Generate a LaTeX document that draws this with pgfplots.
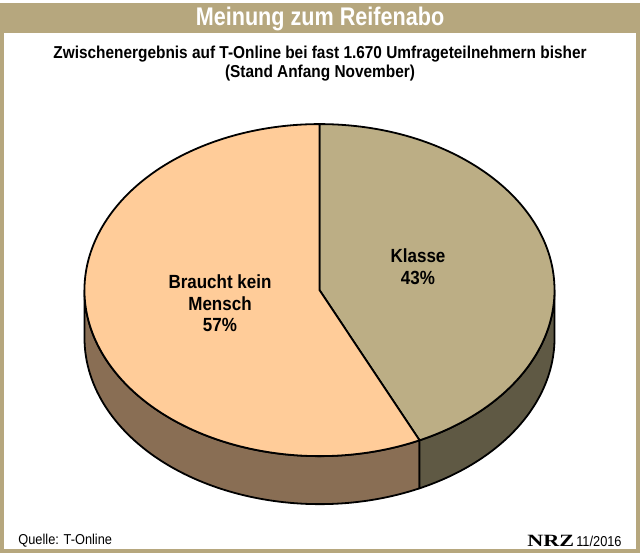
\documentclass[border=0pt]{standalone}
\usepackage{pgfplots}
\usepackage{pgfplotstable}
\pgfplotsset{compat=1.18}
\usepackage{fontspec}
\setmainfont{Liberation Sans}
\newfontfamily\logofont{Liberation Serif}

\definecolor{frame}{RGB}{182,167,126}
\definecolor{khaki}{RGB}{188,174,133}
\definecolor{khakiside}{RGB}{95,89,68}
\definecolor{peach}{RGB}{255,204,153}
\definecolor{peachside}{RGB}{137,110,84}

% Umfrage T-Online, Anteile in Prozent
\pgfplotstableread{
label value
Klasse 43
Mensch 57
}\piedata

\newcommand{\tall}[1]{\scalebox{1}[1.12]{#1}}

\begin{document}
\begin{tikzpicture}
\pgfplotstablegetelem{0}{value}\of\piedata
\let\vK\pgfplotsretval
% pie geometry in pixel units (1 unit = 0.5pt)
\def\cx{319.5}\def\cy{262.5}\def\RX{235}\def\RY{166}\def\D{48}
\def\rx{117.5pt}\def\ry{83pt}
\pgfmathsetmacro\aB{90-3.6*\vK}
\pgfmathsetmacro\aS{\aB+360}
\pgfmathsetmacro\xB{\cx+\RX*cos(\aB)}
\pgfmathsetmacro\yB{\cy+\RY*sin(\aB)}
\pgfmathsetmacro\yBd{\yB-\D}
\pgfmathsetmacro\xL{\cx-\RX}
\pgfmathsetmacro\xR{\cx+\RX}
\pgfmathsetmacro\yD{\cy-\D}
\pgfmathsetmacro\yT{\cy+\RY}
\begin{axis}[
    x=0.5pt, y=0.5pt,
    xmin=0, xmax=640, ymin=0, ymax=550,
    scale only axis,
    enlargelimits=false,
    hide axis,
    clip=false,
]
\fill[frame] (axis cs:0,0) rectangle (axis cs:640,550);
\fill[white] (axis cs:4,4) rectangle (axis cs:636,520);

\node[text=white, font=\bfseries\fontsize{10.8}{13}\selectfont]
    at (axis cs:320,534) {\scalebox{1}[1.18]{Meinung zum Reifenabo}};
\node[align=center, font=\bfseries\fontsize{7.7}{9.5}\selectfont]
    at (axis cs:320,489.5)
    {\tall{Zwischenergebnis auf T-Online bei fast 1.670 Umfrageteilnehmern bisher}\\\tall{(Stand Anfang November)}};

% sides
\filldraw[fill=peachside, draw=black, line width=0.9pt, line join=round]
    (axis cs:\xL,\cy) arc[start angle=180, end angle=\aS, x radius=\rx, y radius=\ry]
    -- (axis cs:\xB,\yBd) arc[start angle=\aS, end angle=180, x radius=\rx, y radius=\ry]
    -- cycle;
\filldraw[fill=khakiside, draw=black, line width=0.9pt, line join=round]
    (axis cs:\xB,\yB) arc[start angle=\aS, end angle=360, x radius=\rx, y radius=\ry]
    -- (axis cs:\xR,\yD) arc[start angle=360, end angle=\aS, x radius=\rx, y radius=\ry]
    -- cycle;
% top
\filldraw[fill=khaki, draw=black, line width=0.9pt, line join=round]
    (axis cs:\cx,\cy) -- (axis cs:\cx,\yT)
    arc[start angle=90, end angle=\aB, x radius=\rx, y radius=\ry] -- cycle;
\filldraw[fill=peach, draw=black, line width=0.9pt, line join=round]
    (axis cs:\cx,\cy) -- (axis cs:\xB,\yB)
    arc[start angle=\aB, end angle=-270, x radius=\rx, y radius=\ry] -- cycle;

\node[align=center, font=\bfseries\fontsize{8.5}{11}\selectfont]
    at (axis cs:418,285.5) {\tall{Klasse}\\\tall{43\%}};
\node[align=center, font=\bfseries\fontsize{8.5}{10.75}\selectfont]
    at (axis cs:220,249) {\tall{Braucht kein}\\\tall{Mensch}\\\tall{57\%}};

\node[anchor=west, inner sep=0pt, font=\fontsize{6.4}{7.5}\selectfont]
    at (axis cs:18,12) {\tall{Quelle: T-Online}};
\node[anchor=east, inner sep=0pt, font=\fontsize{6.4}{7.5}\selectfont]
    at (axis cs:622,12) {\scalebox{1.35}[1.05]{\logofont\bfseries\fontsize{8.2}{9}\selectfont NRZ}\,\tall{11/2016}};
\end{axis}
\end{tikzpicture}
\end{document}
